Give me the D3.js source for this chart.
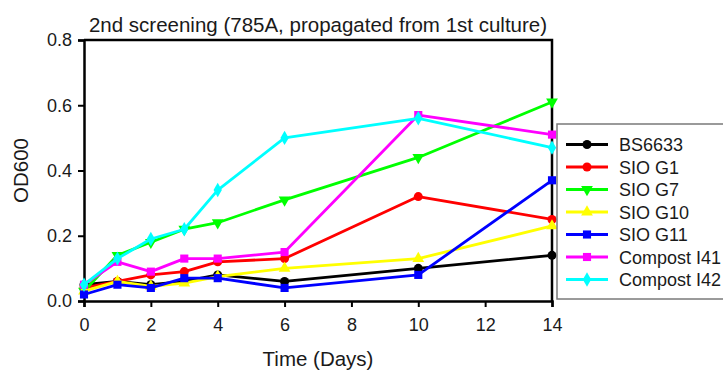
<!DOCTYPE html>
<html>
<head>
<meta charset="utf-8">
<script src="https://cdn.jsdelivr.net/npm/d3@7"></script>
<style>
  html, body { margin: 0; padding: 0; background: #fff; }
  svg { display: block; }
  text { font-family: "Liberation Sans", Arial, sans-serif; fill: #1a1a1a; }
</style>
</head>
<body>
<svg id="chart" width="723" height="373"></svg>
<script>
// Sampling days
const days = [0, 1, 2, 3, 4, 6, 10, 14];

// OD600 readings per strain
const bs6633     = [0.05, 0.06, 0.05, 0.06, 0.08, 0.06, 0.10, 0.14];
const sioG1      = [0.04, 0.06, 0.08, 0.09, 0.12, 0.13, 0.32, 0.25];
const sioG7      = [0.03, 0.14, 0.18, 0.22, 0.24, 0.31, 0.44, 0.61];
const sioG10     = [0.03, 0.06, 0.045, 0.055, 0.075, 0.10, 0.13, 0.23];
const sioG11     = [0.02, 0.05, 0.04, 0.07, 0.07, 0.04, 0.08, 0.37];
const compostI41 = [0.05, 0.12, 0.09, 0.13, 0.13, 0.15, 0.57, 0.51];
const compostI42 = [0.05, 0.13, 0.19, 0.22, 0.34, 0.50, 0.56, 0.47];

const seriesNames = ["BS6633", "SIO G1", "SIO G7", "SIO G10", "SIO G11", "Compost I41", "Compost I42"];
const seriesValues = [bs6633, sioG1, sioG7, sioG10, sioG11, compostI41, compostI42];
const seriesColors = ["#000000", "#ff0000", "#00ff00", "#ffff00", "#0000ff", "#ff00ff", "#00ffff"];
const seriesMarkers = ["circle", "circle", "triangleDown", "triangle", "square", "square", "diamond"];

const xTicks = [0, 2, 4, 6, 8, 10, 12, 14];
const yTicks = [0.0, 0.2, 0.4, 0.6, 0.8];

const titleText = "2nd screening (785A, propagated from 1st culture)";
const xLabel = "Time (Days)";
const yLabel = "OD600";

const svg = d3.select("#chart");
const plot = { left: 84, right: 552, top: 40, bottom: 301 };

const x = d3.scaleLinear().domain([0, 14]).range([plot.left, plot.right]);
const y = d3.scaleLinear().domain([0, 0.8]).range([plot.bottom, plot.top]);

svg.append("rect").attr("width", 723).attr("height", 373).attr("fill", "#fff");

// Frame: top and right edges of the plotting box
svg.append("path")
  .attr("d", `M${plot.left},${plot.top}H${plot.right}V${plot.bottom}`)
  .attr("fill", "none").attr("stroke", "#000").attr("stroke-width", 2.5);

// Axes
const xAxis = svg.append("g")
  .attr("transform", `translate(0,${plot.bottom})`)
  .call(d3.axisBottom(x).tickValues(xTicks).tickSizeOuter(0).tickSize(6).tickPadding(11).tickFormat(d3.format("d")));
const yAxis = svg.append("g")
  .attr("transform", `translate(${plot.left},0)`)
  .call(d3.axisLeft(y).tickValues(yTicks).tickSizeOuter(0).tickSize(6).tickPadding(6).tickFormat(d3.format(".1f")));

[xAxis, yAxis].forEach(g => {
  g.select(".domain").attr("stroke", "#000").attr("stroke-width", 2.5);
  g.selectAll(".tick line").attr("stroke", "#000").attr("stroke-width", 2);
  g.selectAll(".tick text").attr("font-size", 18).attr("font-family", "Liberation Sans, Arial, sans-serif").attr("fill", "#1a1a1a");
});

// Marker shapes
function markerPath(kind) {
  switch (kind) {
    case "circle": return d3.symbol().type(d3.symbolCircle).size(64)();
    case "triangle": return d3.symbol().type(d3.symbolTriangle).size(60)();
    case "triangleDown": return d3.symbol().type(d3.symbolTriangle).size(60)();
    case "square": return d3.symbol().type(d3.symbolSquare).size(66)();
    case "diamond": return d3.symbol().type(d3.symbolDiamond).size(60)();
  }
}
function markerRotate(kind) { return kind === "triangleDown" ? " rotate(180)" : ""; }

const line = d3.line().x((d, i) => x(days[i])).y(d => y(d));

seriesValues.forEach((vals, si) => {
  const g = svg.append("g");
  g.append("path")
    .attr("d", line(vals))
    .attr("fill", "none")
    .attr("stroke", seriesColors[si])
    .attr("stroke-width", 2.8)
    .attr("stroke-linejoin", "round");
  g.selectAll("path.mk").data(vals).join("path")
    .attr("class", "mk")
    .attr("d", markerPath(seriesMarkers[si]))
    .attr("transform", (d, i) => `translate(${x(days[i])},${y(d)})${markerRotate(seriesMarkers[si])}`)
    .attr("fill", seriesColors[si]);
});

// Titles
svg.append("text")
  .attr("x", (plot.left + plot.right) / 2).attr("y", 32)
  .attr("text-anchor", "middle").attr("font-size", 20.5)
  .text(titleText);
svg.append("text")
  .attr("x", (plot.left + plot.right) / 2).attr("y", 366)
  .attr("text-anchor", "middle").attr("font-size", 20.5)
  .text(xLabel);
svg.append("text")
  .attr("transform", `translate(28,${(plot.top + plot.bottom) / 2}) rotate(-90)`)
  .attr("text-anchor", "middle").attr("font-size", 20.5)
  .text(yLabel);

// Legend
const legend = svg.append("g");
legend.append("rect")
  .attr("x", 557).attr("y", 124).attr("width", 200).attr("height", 175)
  .attr("fill", "#fff").attr("stroke", "#7a7a7a").attr("stroke-width", 1.5);
seriesNames.forEach((name, si) => {
  const cy = 144.5 + si * 22.5;
  legend.append("line")
    .attr("x1", 566).attr("x2", 608).attr("y1", cy).attr("y2", cy)
    .attr("stroke", seriesColors[si]).attr("stroke-width", 2.8);
  legend.append("path")
    .attr("d", markerPath(seriesMarkers[si]))
    .attr("transform", `translate(587,${cy})${markerRotate(seriesMarkers[si])}`)
    .attr("fill", seriesColors[si]);
  legend.append("text")
    .attr("x", 619).attr("y", cy + 6.5)
    .attr("font-size", 18)
    .text(name);
});
</script>
</body>
</html>
